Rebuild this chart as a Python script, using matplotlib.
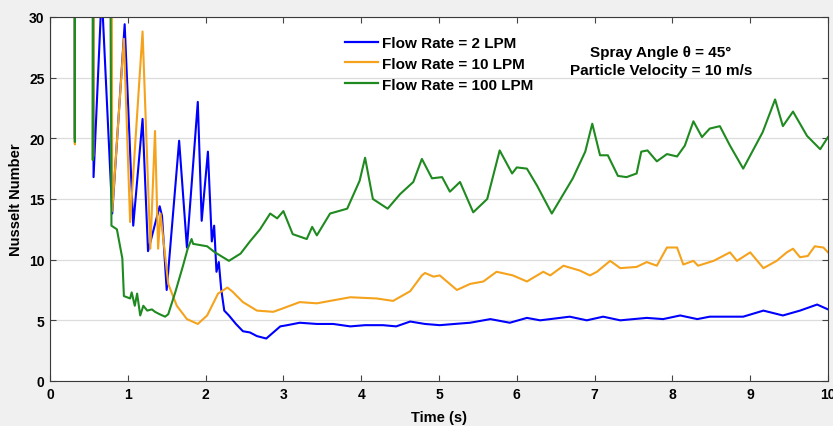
import matplotlib
matplotlib.use('Agg')
from matplotlib import pyplot as plt
from matplotlib import font_manager

# Nusselt number vs time, three flow rates
t_2lpm = [0.0, 0.31, 0.32, 0.33, 0.54, 0.56, 0.665, 0.80, 0.96, 1.07, 1.19, 1.26,
          1.41, 1.44, 1.50, 1.66, 1.76, 1.90, 1.95, 2.03, 2.08, 2.11, 2.14, 2.17,
          2.20, 2.24, 2.30, 2.39, 2.48, 2.57, 2.66, 2.78, 2.87, 2.96, 3.05, 3.21,
          3.43, 3.64, 3.86, 4.05, 4.28, 4.45, 4.63, 4.82, 5.01, 5.20, 5.40, 5.66,
          5.91, 6.13, 6.30, 6.43, 6.68, 6.90, 7.11, 7.33, 7.50, 7.67, 7.88, 8.10,
          8.32, 8.48, 8.74, 8.91, 9.17, 9.42, 9.64, 9.86, 10.0]
nu_2lpm = [200, 200, 20.0, 200, 200, 16.8, 32.0, 13.8, 29.4, 12.8, 21.6, 10.7,
           14.4, 13.6, 7.5, 19.8, 11.0, 23.0, 13.2, 18.9, 11.5, 12.8, 9.0, 9.8,
           7.6, 5.8, 5.4, 4.7, 4.1, 4.0, 3.7, 3.5, 4.0, 4.5, 4.6, 4.8,
           4.7, 4.7, 4.5, 4.6, 4.6, 4.5, 4.9, 4.7, 4.6, 4.7, 4.8, 5.1,
           4.8, 5.2, 5.0, 5.1, 5.3, 5.0, 5.3, 5.0, 5.1, 5.2, 5.1, 5.4,
           5.1, 5.3, 5.3, 5.3, 5.8, 5.4, 5.8, 6.3, 5.9]

t_10lpm = [0.0, 0.31, 0.32, 0.33, 0.54, 0.555, 0.64, 0.745, 0.80, 0.95, 1.03, 1.19,
           1.29, 1.35, 1.39, 1.42, 1.52, 1.63, 1.76, 1.90, 2.02, 2.16, 2.28, 2.34,
           2.48, 2.66, 2.87, 3.00, 3.21, 3.43, 3.60, 3.86, 4.20, 4.41, 4.63, 4.78,
           4.82, 4.93, 5.01, 5.23, 5.40, 5.57, 5.74, 5.95, 6.13, 6.34, 6.43, 6.60,
           6.81, 6.94, 7.03, 7.20, 7.33, 7.54, 7.67, 7.80, 7.93, 8.06, 8.14, 8.27,
           8.33, 8.53, 8.74, 8.83, 9.00, 9.17, 9.34, 9.47, 9.55, 9.64, 9.74, 9.83,
           9.94, 10.0]
nu_10lpm = [200, 200, 19.5, 200, 200, 18.5, 200, 200, 14.0, 28.2, 13.1, 28.8,
            10.9, 20.6, 10.9, 13.8, 8.0, 6.2, 5.1, 4.7, 5.4, 7.2, 7.7, 7.4,
            6.5, 5.8, 5.7, 6.0, 6.5, 6.4, 6.6, 6.9, 6.8, 6.6, 7.4, 8.7,
            8.9, 8.6, 8.7, 7.5, 8.0, 8.2, 9.0, 8.7, 8.2, 9.0, 8.7, 9.5,
            9.1, 8.7, 9.0, 9.9, 9.3, 9.4, 9.8, 9.5, 11.0, 11.0, 9.6, 9.9,
            9.5, 9.9, 10.6, 9.9, 10.6, 9.3, 9.9, 10.6, 10.9, 10.2, 10.3, 11.1,
            11.0, 10.6]

t_100lpm = [0.0, 0.005, 0.31, 0.32, 0.33, 0.54, 0.55, 0.60, 0.76, 0.79, 0.86, 0.93,
            0.95, 1.03, 1.05, 1.09, 1.12, 1.16, 1.20, 1.25, 1.31, 1.35, 1.41, 1.48,
            1.52, 1.61, 1.71, 1.77, 1.82, 1.84, 2.02, 2.12, 2.30, 2.45, 2.57, 2.70,
            2.83, 2.92, 3.00, 3.12, 3.30, 3.37, 3.43, 3.60, 3.82, 3.98, 4.05, 4.15,
            4.34, 4.50, 4.67, 4.78, 4.91, 5.04, 5.14, 5.27, 5.44, 5.62, 5.78, 5.94,
            6.00, 6.13, 6.26, 6.45, 6.72, 6.88, 6.97, 7.07, 7.17, 7.30, 7.41, 7.54,
            7.60, 7.68, 7.80, 7.93, 8.06, 8.16, 8.27, 8.38, 8.48, 8.61, 8.74, 8.91,
            9.16, 9.32, 9.42, 9.55, 9.73, 9.90, 10.0]
nu_100lpm = [0.0, 200, 200, 19.7, 200, 200, 18.2, 200, 60, 12.8, 12.5, 10.1,
             7.0, 6.8, 7.3, 6.2, 7.2, 5.4, 6.2, 5.8, 5.9, 5.7, 5.5, 5.3,
             5.5, 7.3, 9.5, 10.9, 11.7, 11.3, 11.1, 10.6, 9.9, 10.5, 11.5, 12.5,
             13.8, 13.4, 14.0, 12.1, 11.7, 12.7, 12.0, 13.8, 14.2, 16.5, 18.4, 15.0,
             14.2, 15.4, 16.4, 18.3, 16.7, 16.8, 15.6, 16.4, 13.9, 15.0, 19.0, 17.1,
             17.6, 17.5, 16.1, 13.8, 16.7, 18.9, 21.2, 18.6, 18.6, 16.9, 16.8, 17.1,
             18.9, 19.0, 18.1, 18.7, 18.5, 19.4, 21.4, 20.1, 20.8, 21.0, 19.4, 17.5,
             20.5, 23.2, 21.0, 22.2, 20.2, 19.1, 20.1]

labels = ['Flow Rate = 2 LPM', 'Flow Rate = 10 LPM', 'Flow Rate = 100 LPM']
colors = ['#0000ff', '#f5a21c', '#1f8a1f']
x_ticks = list(range(0, 11))
y_ticks = [0, 5, 10, 15, 20, 25, 30]


def pick_font():
    names = {f.name for f in font_manager.fontManager.ttflist}
    for name in ['Liberation Sans', 'Arial', 'DejaVu Sans']:
        if name in names:
            return name
    return 'DejaVu Sans'


def nusselt_plot():
    plt.rcParams['font.family'] = pick_font()
    plt.rcParams['font.weight'] = 'bold'

    fig = plt.figure(figsize=(8.33, 4.27), dpi=100)
    fig.patch.set_facecolor('#f0f0f0')
    ax = fig.add_axes([0.060, 0.1054, 0.934, 0.8526])
    ax.set_facecolor('white')

    series = [(t_2lpm, nu_2lpm), (t_10lpm, nu_10lpm), (t_100lpm, nu_100lpm)]
    for (t, nu), label, color in zip(series, labels, colors):
        ax.plot(t, nu, color=color, lw=1.5, label=label)

    ax.set_xlim(0, 10)
    ax.set_ylim(0, 30)
    ax.set_xticks(x_ticks)
    ax.set_yticks(y_ticks)
    ax.tick_params(direction='in', top=True, right=True, length=4,
                   width=0.8, color='#444444', labelsize=10, pad=4)
    for lbl in ax.get_xticklabels() + ax.get_yticklabels():
        lbl.set_fontweight('bold')
    ax.grid(axis='y', color='#dcdcdc', lw=0.9)
    ax.set_axisbelow(True)
    for s in ax.spines.values():
        s.set_color('#3a3a3a')
        s.set_linewidth(0.8)

    ax.set_xlabel('Time (s)', fontsize=10.5, fontweight='bold', labelpad=7)
    ax.set_ylabel('Nusselt Number', fontsize=10.5, fontweight='bold', labelpad=4)

    leg = ax.legend(loc='upper left', bbox_to_anchor=(0.379, 0.948),
                    frameon=False, borderpad=0, borderaxespad=0,
                    handlelength=2.2, handletextpad=0.2, labelspacing=0.45,
                    prop={'weight': 'bold', 'size': 11})
    for line in leg.get_lines():
        line.set_linewidth(1.6)

    ax.text(0.785, 0.878, 'Spray Angle θ = 45°\nParticle Velocity = 10 m/s',
            transform=ax.transAxes, ha='center', va='center',
            fontsize=11, fontweight='bold', linespacing=1.35)

    fig.savefig('out.png', dpi=100, facecolor=fig.get_facecolor())


def main():
    nusselt_plot()


if __name__ == '__main__':
    main()
